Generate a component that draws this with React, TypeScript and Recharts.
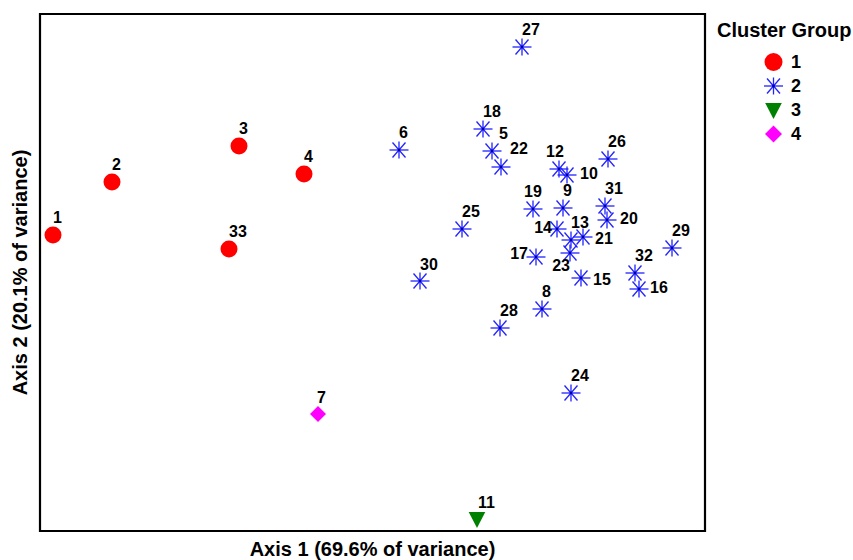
import React from 'react'
import {
  ScatterChart, Scatter, XAxis, YAxis, ReferenceArea, Legend,
} from 'recharts'

// sample ids, ordination scores and cluster membership
const IDS = ['1', '2', '3', '4', '5', '6', '7', '8', '9', '10', '11', '12', '13', '14', '15', '16', '17',
  '18', '19', '20', '21', '22', '23', '24', '25', '26', '27', '28', '29', '30', '31', '32', '33']
const AXIS1 = [13, 72, 199, 264, 452, 359, 278, 502, 523, 527, 437, 519, 531, 517, 541, 599, 496,
  443, 493, 567, 543, 461, 530, 531, 422, 568, 482, 460, 632, 380, 565, 595, 189]
const AXIS2 = [296, 349, 385, 357, 380, 381, 117, 222, 323, 356, 12, 362, 291, 302, 253, 242, 274,
  402, 322, 311, 294, 364, 278, 138, 302, 372, 484, 203, 283, 250, 325, 258, 282]
const CLUSTER = [1, 1, 1, 1, 2, 2, 4, 2, 2, 2, 3, 2, 2, 2, 2, 2, 2,
  2, 2, 2, 2, 2, 2, 2, 2, 2, 2, 2, 2, 2, 2, 2, 1]
const GROUPS = [1, 2, 3, 4]

const X_DOMAIN = [0, 665]
const Y_DOMAIN = [0, 517]

const FONT = 'Arial, "Liberation Sans", Helvetica, sans-serif'
const RED = '#ff0000'
const BLUE = '#2323ff'
const GREEN = '#008000'
const MAGENTA = '#ff00ff'

// label placement around the marker: [dx, dy, anchor]
const LABEL_OFFSETS: Record<string, [number, number, string]> = {
  '5': [7, -12, 'start'],
  '22': [9, -13, 'start'],
  '12': [-13, -12, 'start'],
  '19': [-9, -12, 'start'],
  '10': [13, 4, 'start'],
  '20': [13, 4, 'start'],
  '21': [12, 7, 'start'],
  '15': [12, 7, 'start'],
  '16': [11, 4, 'start'],
  '14': [-5, 4, 'end'],
  '17': [-8, 2, 'end'],
  '23': [0, 18, 'end'],
  '11': [1, -11, 'start'],
  '7': [-1, -11, 'start'],
  '30': [0, -11, 'start'],
}

const Circle = ({ cx, cy, r = 8.5 }: any) => <circle cx={cx} cy={cy} r={r} fill={RED} />

const Star = ({ cx, cy }: any) => (
  <g stroke={BLUE} strokeWidth={1.3}>
    <line x1={cx - 9.5} y1={cy} x2={cx + 9.5} y2={cy} />
    <line x1={cx} y1={cy - 8.5} x2={cx} y2={cy + 8.5} />
    <line x1={cx - 6.5} y1={cy - 7.5} x2={cx + 6.5} y2={cy + 7.5} />
    <line x1={cx - 6.5} y1={cy + 7.5} x2={cx + 6.5} y2={cy - 7.5} />
    <circle cx={cx} cy={cy} r={1.4} fill="#0000b0" stroke="none" />
  </g>
)

const Triangle = ({ cx, cy }: any) => (
  <polygon points={`${cx - 8.3},${cy - 7} ${cx + 8.3},${cy - 7} ${cx},${cy + 9}`} fill={GREEN} />
)

const Diamond = ({ cx, cy, r = 8 }: any) => (
  <polygon points={`${cx},${cy - r} ${cx + r},${cy} ${cx},${cy + r} ${cx - r},${cy}`} fill={MAGENTA} />
)

const MARKERS: Record<number, any> = { 1: Circle, 2: Star, 3: Triangle, 4: Diamond }

const makeShape = (Marker: any) => (props: any) => {
  const { cx, cy, payload } = props
  const [dx, dy, anchor] = LABEL_OFFSETS[payload.id] ?? [0, -12, 'start']
  return (
    <g>
      <Marker cx={cx} cy={cy} />
      <text x={cx + dx} y={cy + dy} textAnchor={anchor} fontSize={16} fontWeight="bold"
        fontFamily={FONT} fill="#000">{payload.id}</text>
    </g>
  )
}

const groupData = (g: number) => IDS
  .map((id, i) => ({ id, x: AXIS1[i], y: AXIS2[i], group: CLUSTER[i] }))
  .filter(d => d.group === g)

const renderLegend = () => (
  <svg width={143} height={135} style={{ display: 'block' }}>
    <text x={7} y={26.7} fontSize={20} fontWeight="bold" fontFamily={FONT} fill="#000">Cluster Group</text>
    {GROUPS.map((g, i) => {
      const Marker = MARKERS[g]
      const cy = 52 + i * 24
      return (
        <g key={g}>
          <Marker cx={63.5} cy={cy} r={g === 4 ? 8.5 : 9} />
          <text x={81} y={cy + 6} fontSize={18} fontWeight="bold" fontFamily={FONT} fill="#000">{g}</text>
        </g>
      )
    })}
  </svg>
)

export default function App() {
  return (
    <div style={{ position: 'absolute', left: 0, top: 0 }}>
      <ScatterChart width={853} height={560} margin={{ top: 14, right: 148, bottom: 0, left: 0 }}>
        <XAxis type="number" dataKey="x" domain={X_DOMAIN} tick={false} tickLine={false} axisLine={false}
          height={29}
          label={{ value: 'Axis 1 (69.6% of variance)', position: 'insideBottom', offset: 4,
            fill: '#000', fontSize: 20, fontWeight: 'bold', fontFamily: FONT }} />
        <YAxis type="number" dataKey="y" domain={Y_DOMAIN} tick={false} tickLine={false} axisLine={false}
          width={40}
          label={{ value: 'Axis 2 (20.1% of variance)', angle: -90, position: 'insideLeft', offset: 20,
            fill: '#000', fontSize: 20, fontWeight: 'bold', fontFamily: FONT, style: { textAnchor: 'middle' } }} />
        <ReferenceArea x1={X_DOMAIN[0]} x2={X_DOMAIN[1]} y1={Y_DOMAIN[0]} y2={Y_DOMAIN[1]}
          fill="none" fillOpacity={0} stroke="#000" strokeWidth={2.2} strokeOpacity={1} />
        {GROUPS.map(g => (
          <Scatter key={g} data={groupData(g)} shape={makeShape(MARKERS[g])} isAnimationActive={false} />
        ))}
        <Legend layout="horizontal" verticalAlign="middle" align="center" content={renderLegend}
          wrapperStyle={{ left: 710, top: 10, width: 143 }} />
      </ScatterChart>
    </div>
  )
}
